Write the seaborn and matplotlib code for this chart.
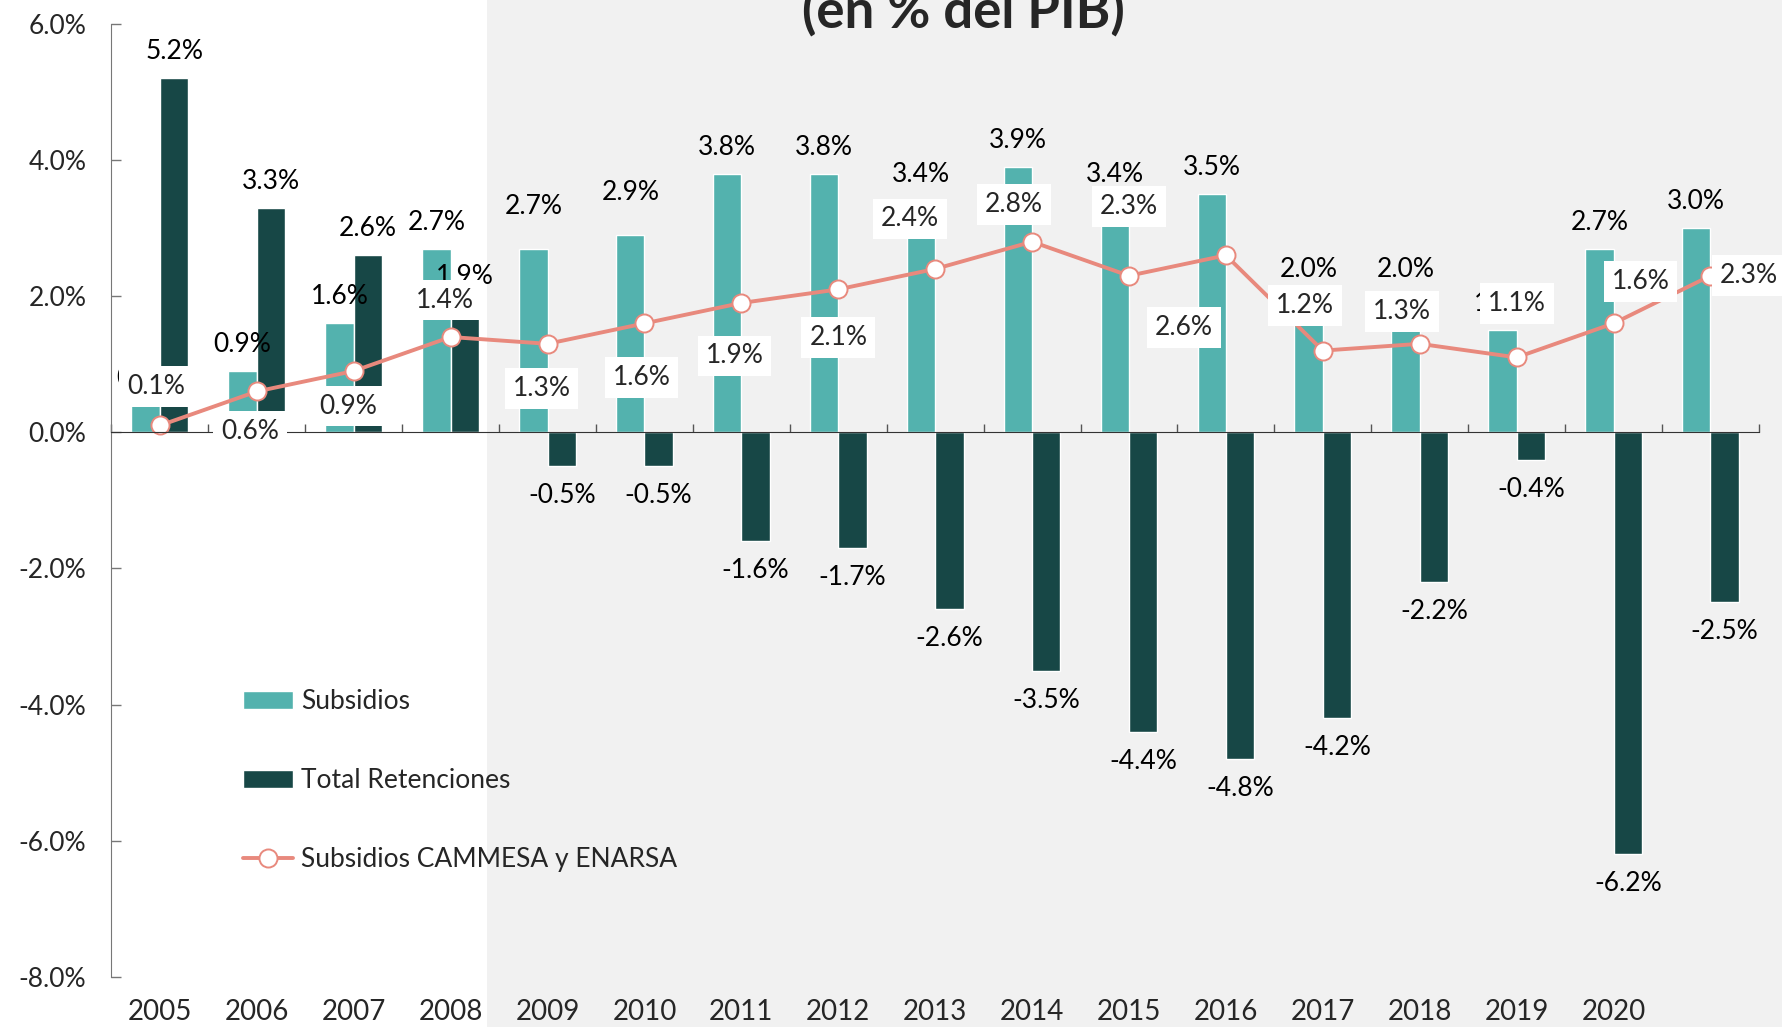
import numpy as np
import pandas as pd
import seaborn as sns
import matplotlib.pyplot as plt
from matplotlib.patches import Rectangle, Patch
from matplotlib.lines import Line2D

# data (% del PIB)
years = ['2005', '2006', '2007', '2008', '2009', '2010', '2011', '2012', '2013',
         '2014', '2015', '2016', '2017', '2018', '2019', '2020', '2021']
year_labels = ['2005', '2006', '2007', '2008', '2009', '2010', '2011', '2012', '2013',
               '2014', '2015', '2016', '2017', '2018', '2019', '2020', '']
subsidios = [0.4, 0.9, 1.6, 2.7, 2.7, 2.9, 3.8, 3.8, 3.4, 3.9, 3.4, 3.5, 2.0, 2.0, 1.5, 2.7, 3.0]
retenciones = [5.2, 3.3, 2.6, 1.9, -0.5, -0.5, -1.6, -1.7, -2.6, -3.5, -4.4, -4.8, -4.2, -2.2, -0.4, -6.2, -2.5]
cammesa = [0.1, 0.6, 0.9, 1.4, 1.3, 1.6, 1.9, 2.1, 2.4, 2.8, 2.3, 2.6, 1.2, 1.3, 1.1, 1.6, 2.3]
series_names = ['Subsidios', 'Total Retenciones', 'Subsidios CAMMESA y ENARSA']

# styling
TEAL = '#53b2ae'
DARK = '#174746'
SALMON = '#e8897d'
GREY_BG = '#f1f1f1'
FS = 19
PX = 0.72  # points per pixel at dpi=100

# line label offsets (pixels, dx / dy from marker); None = beside marker on the right
line_label_offsets = [(-4, 39), (-7, -40), (-6, -35), (-6, 37), (-6, -45), (-3, -54),
                      (-7, -53), (0, -48), (-25, 50), (-18, 37), (0, 69), (-42, -72),
                      (-18, 45), (-18, 32), (0, 54), (27, 42), None]
# extra lift for a few subsidy labels (pixels)
subs_label_lift = {4: 16, 5: 16}

sns.set_style('white')
plt.rcParams['font.family'] = ['Lato', 'DejaVu Sans']

fig = plt.figure(figsize=(17.83, 10.27), dpi=100)
fig.add_artist(Rectangle((0.273, 0), 1, 1, transform=fig.transFigure,
                         facecolor=GREY_BG, edgecolor='none', zorder=-5))
ax = fig.add_axes([0.0625, 0.0489, 0.924, 0.9278])
ax.set_facecolor('none')

df = pd.DataFrame({
    'year': years * 2,
    'value': subsidios + retenciones,
    'serie': [series_names[0]] * len(years) + [series_names[1]] * len(years),
})
sns.barplot(data=df, x='year', y='value', hue='serie', hue_order=series_names[:2],
            palette=[TEAL, DARK], saturation=1, width=0.586, errorbar=None,
            ax=ax, zorder=2, legend=False)

pos = np.arange(len(years))
sns.lineplot(x=pos, y=cammesa, color=SALMON, linewidth=2.8, marker='o', markersize=13,
             markerfacecolor='white', markeredgecolor=SALMON, markeredgewidth=1.4,
             ax=ax, zorder=4, legend=False)

# bar labels
for ci, (container, vals) in enumerate(zip(ax.containers, [subsidios, retenciones])):
    for i, (bar, v) in enumerate(zip(container, vals)):
        x = bar.get_x() + bar.get_width() / 2
        if v >= 0:
            off = 19 + (subs_label_lift.get(i, 0) if ci == 0 else 0)
        else:
            off = -37
        ax.annotate(f'{v:.1f}%', (x, v), xytext=(0, off * PX), textcoords='offset points',
                    ha='center', va='baseline', fontsize=FS, color='black', zorder=3)

# line labels in white boxes
for i, v in enumerate(cammesa):
    o = line_label_offsets[i]
    box = dict(boxstyle='square,pad=0.3', facecolor='white', edgecolor='none')
    if o is None:
        ax.annotate(f'{v:.1f}%', (i, v), xytext=(9.5 * PX, 0), textcoords='offset points',
                    ha='left', va='center', fontsize=FS, bbox=box, zorder=6,
                    annotation_clip=False)
    else:
        ax.annotate(f'{v:.1f}%', (i, v), xytext=(o[0] * PX, o[1] * PX), textcoords='offset points',
                    ha='center', va='center', fontsize=FS, bbox=box, zorder=6)

# axes
ax.set_xlim(-0.5, len(years) - 0.5)
ax.set_ylim(-8, 6)
ax.set_yticks(range(-8, 7, 2))
ax.set_yticklabels([f'{t:.1f}%' for t in range(-8, 7, 2)], fontsize=FS)
ax.set_xticks(np.arange(-0.5, len(years), 1))
ax.set_xticklabels([])
ax.tick_params(axis='y', direction='in', length=7, width=1, color='#777777', pad=18, left=True)
ax.tick_params(axis='x', direction='in', length=6, width=1, color='#555555', bottom=True)
ax.set_xlabel('')
ax.set_ylabel('')
for side in ['top', 'right']:
    ax.spines[side].set_visible(False)
ax.spines['bottom'].set_position(('data', 0))
ax.spines['bottom'].set_color('#333333')
ax.spines['bottom'].set_zorder(5)
ax.spines['left'].set_color('#777777')

for i, lab in enumerate(year_labels):
    ax.text(i, -0.037, lab, transform=ax.get_xaxis_transform(), ha='center', va='center',
            fontsize=20)

handles = [Patch(facecolor=TEAL), Patch(facecolor=DARK),
           Line2D([], [], color=SALMON, linewidth=2.8, marker='o', markersize=13,
                  markerfacecolor='white', markeredgecolor=SALMON, markeredgewidth=1.4)]
ax.legend(handles, series_names, loc='upper left', bbox_to_anchor=(0.08, 0.302),
          frameon=False, fontsize=FS, labelspacing=2.05, handlelength=1.9,
          handleheight=0.65, handletextpad=0.3, borderpad=0, borderaxespad=0)

fig.text(0.5405, 0.9737, '(en % del PIB)', ha='center', va='baseline', fontsize=38,
         fontweight='bold')

fig.savefig('out.png', dpi=100)
